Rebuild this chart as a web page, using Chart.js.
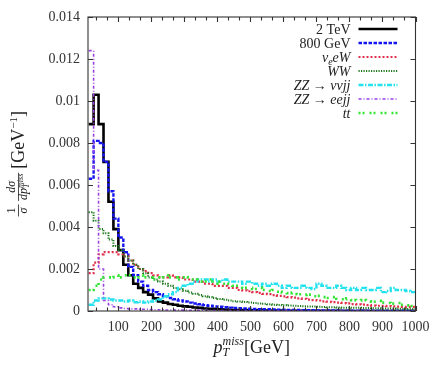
<!DOCTYPE html>
<html>
<head>
<meta charset="utf-8">
<script src="https://cdn.jsdelivr.net/npm/chart.js@4/dist/chart.umd.min.js"></script>
<style>
html,body{margin:0;padding:0;background:#fff;}
#c{display:block;}
</style>
</head>
<body>
<canvas id="c" width="440" height="367"></canvas>
<script>
// ---- data ----
const binEdges = [10,25,40,55,70,85,100,115,130,145,160,175,190,205,220,235,250,265,280,295,310,325,340,355,370,385,400,415,430,445,460,475,490,505,520,535,550,565,580,595,610,625,640,655,670,685,700,715,730,745,760,775,790,805,820,835,850,865,880,895,910,925,940,955,970,985,1000];

const tev2 = [
0.0089,0.0103,0.0089,0.0071,0.0052,0.0039,0.0029,0.0022,0.0017,0.0013,
0.0011,0.0009,0.00078,0.0006,0.00046,0.0004,0.00033,0.0003,0.00025,0.00022,
0.0002,0.00017,0.00015,0.00012,0.0001,0.0001,0.00008,0.00007,0.00006,0.00005,
0.00004,0.00004,0.00003,0.00003,0.00003,0.00002,0.00002,0.00002,0.00002,0.00001,
0.00001,0.00001,0.00001,0.00001,0.00001,0.00001,0.00001,0.00001,0.00001,0.00001,
0.00001,0,0.00001,0,0,0.00001,0,0,0,0,
0,0,0,0,0,0];

const gev800 = [
0.0063,0.0081,0.0080,0.0071,0.0057,0.0044,0.0035,0.0028,0.0021,0.0017,
0.0014,0.0012,0.0010,0.0009,0.0008,0.0007,0.00062,0.00056,0.0005,0.00045,
0.0004,0.00036,0.00032,0.00028,0.00025,0.00022,0.0002,0.00018,0.00016,0.00014,
0.00013,0.00012,0.00011,0.0001,0.00009,0.00008,0.00008,0.00007,0.00006,0.00006,
0.00005,0.00005,0.00005,0.00004,0.00004,0.00004,0.00003,0.00003,0.00003,0.00003,
0.00003,0.00002,0.00002,0.00002,0.00002,0.00002,0.00002,0.00002,0.00001,0.00002,
0.00001,0.00001,0.00001,0.00001,0.00001,0.00001];

const nueW = [
0.0018,0.0023,0.0027,0.0028,0.0028,0.0028,0.0027,0.0026,0.0024,0.0022,
0.0020,0.0019,0.0018,0.0017,0.0016,0.0016,0.0017,0.0016,0.0016,0.0015,
0.0015,0.0014,0.0014,0.0013,0.0013,0.0012,0.0012,0.0012,0.0011,0.0011,
0.0010,0.00098,0.00094,0.0009,0.00086,0.00082,0.0008,0.00076,0.00072,0.0007,
0.00066,0.00064,0.0006,0.00058,0.00054,0.00052,0.0005,0.00046,0.00044,0.00042,
0.0004,0.00038,0.00036,0.00033,0.00032,0.0003,0.00028,0.00026,0.00025,0.00024,
0.00023,0.00022,0.00021,0.0002,0.0002,0.0002];

const ww = [
0.0047,0.0043,0.0039,0.0037,0.0034,0.0031,0.0029,0.0026,0.0024,0.0022,
0.0020,0.0018,0.0016,0.0015,0.0014,0.0013,0.0012,0.0011,0.00104,0.00096,
0.00088,0.00082,0.00076,0.0007,0.00066,0.00062,0.00057,0.00053,0.0005,0.00047,
0.00045,0.00043,0.0004,0.00038,0.00036,0.00034,0.00032,0.0003,0.00029,0.00027,
0.00026,0.00025,0.00024,0.00023,0.00022,0.00021,0.0002,0.00019,0.00018,0.00018,
0.00017,0.00016,0.00016,0.00015,0.00015,0.00014,0.00014,0.00013,0.00013,0.00012,
0.00012,0.00012,0.00011,0.00011,0.0001,0.0001];

const zzNuNuJJ = [
0.0003,0.0005,0.0006,0.0006,0.00055,0.0005,0.0005,0.00045,0.0005,0.00042,
0.00045,0.0004,0.00045,0.0005,0.00055,0.0007,0.0008,0.0009,0.0011,0.0012,
0.0013,0.0014,0.0015,0.0015,0.0014,0.0015,0.0014,0.0015,0.0014,0.0014,
0.0014,0.0013,0.0014,0.0013,0.0012,0.0013,0.0012,0.0013,0.0012,0.0011,
0.0012,0.0011,0.0011,0.0012,0.0011,0.00105,0.0013,0.0012,0.0011,0.0011,
0.0012,0.0011,0.001,0.0011,0.001,0.0011,0.001,0.001,0.0011,0.0009,
0.00095,0.0011,0.001,0.001,0.00095,0.0009];

const zzEEJJ = [
0.0124,0.0067,0.0020,0.0005,0.0003,0.0002,0.00015,0.00012,0.0001,0.0001,
0.00008,0.00008,0.00007,0.00006,0.00006,0.00005,0.00005,0.00004,0.00004,0.00004,
0.00003,0.00003,0.00003,0.00003,0.00002,0.00002,0.00002,0.00002,0.00002,0.00002,
0.00001,0.00001,0.00001,0.00001,0.00001,0.00001,0.00001,0.00001,0.00001,0.00001,
0.00001,0.00001,0,0.00001,0,0,0,0,0,0,
0,0,0,0,0,0,0,0,0,0,
0,0,0,0,0,0];

const ttbar = [
0.0010,0.0012,0.0015,0.0016,0.0016,0.0017,0.0016,0.0017,0.0017,0.0016,
0.0017,0.0016,0.0016,0.0015,0.0016,0.0017,0.0016,0.0016,0.0015,0.0016,
0.0015,0.0015,0.0014,0.0014,0.0015,0.0013,0.0014,0.0013,0.0013,0.0012,
0.0012,0.0011,0.0011,0.00105,0.0011,0.001,0.00095,0.001,0.00092,0.00088,
0.00085,0.00088,0.0008,0.00076,0.00078,0.0007,0.00072,0.00066,0.00062,0.00066,
0.00058,0.00056,0.0006,0.00052,0.0005,0.00052,0.00046,0.00044,0.00048,0.0004,
0.00038,0.00035,0.00038,0.0003,0.00027,0.00024];

const xTickValues = [100,200,300,400,500,600,700,800,900,1000];
const yTickValues = [0,0.002,0.004,0.006,0.008,0.01,0.012,0.014];
const yTickLabels = ['0','0.002','0.004','0.006','0.008','0.01','0.012','0.014'];

// ---- styles ----
const SERIF = '"Liberation Serif","DejaVu Serif",serif';
const seriesDefs = [
  {vals: tev2,     color:'#000000', width:2.6, dash:[]},
  {vals: gev800,   color:'#1414f0', width:2.4, dash:[3.5,1.5]},
  {vals: nueW,     color:'#e0304c', width:2.2, dash:[2,2]},
  {vals: ww,       color:'#1f7a1f', width:2.0, dash:[1.2,1.3]},
  {vals: zzNuNuJJ, color:'#22e2ee', width:2.4, dash:[5,1.5,1.5,1.5]},
  {vals: zzEEJJ,   color:'#9a40e6', width:1.6, dash:[3,2,1,2]},
  {vals: ttbar,    color:'#33e533', width:2.6, dash:[2,2,2,5]}
];
const legendText = [
  [{t:'2 TeV'}],
  [{t:'800 GeV'}],
  [{t:'ν',it:1},{t:'e',it:1,sz:10,dy:3},{t:'eW',it:1}],
  [{t:'WW',it:1}],
  [{t:'ZZ',it:1},{t:' → '},{t:'ννjj',it:1}],
  [{t:'ZZ',it:1},{t:' → '},{t:'eejj',it:1}],
  [{t:'tt',it:1}]
];

function fnt(s, base){ return (s.it?'italic ':'') + (s.sz||base) + 'px ' + SERIF; }
function richLayout(ctx, segs, base){
  let cur=0, prevStart=0, prevEnd=0; const items=[];
  for (const s of segs){
    ctx.font = fnt(s, base);
    const w = ctx.measureText(s.t).width;
    const start = s.stack ? prevStart : cur;
    const end = start + w;
    items.push({s, start});
    cur = s.stack ? Math.max(prevEnd, end) : end;
    prevStart = start; prevEnd = end;
  }
  return {items, width:cur};
}
function richDraw(ctx, segs, x, y, align, base){
  const L = richLayout(ctx, segs, base);
  let x0 = x;
  if (align==='right') x0 = x - L.width; else if (align==='center') x0 = x - L.width/2;
  ctx.textAlign='left'; ctx.textBaseline='alphabetic';
  for (const it of L.items){ ctx.font = fnt(it.s, base); ctx.fillText(it.s.t, x0+it.start, y+(it.s.dy||0)); }
  return L.width;
}

const decor = {
  id:'decor',
  afterDraw(chart){
    const {ctx, chartArea:a, scales:{x, y}} = chart;
    ctx.save();
    // frame
    ctx.strokeStyle='#333'; ctx.lineWidth=1.1; ctx.setLineDash([]);
    ctx.strokeRect(a.left, a.top, a.right-a.left, a.bottom-a.top);
    // ticks
    ctx.beginPath();
    for (const v of yTickValues){
      const py = Math.round(y.getPixelForValue(v))+0.5;
      ctx.moveTo(a.left, py); ctx.lineTo(a.left+5, py);
      ctx.moveTo(a.right, py); ctx.lineTo(a.right-5, py);
    }
    for (let k=0; k*100/3 <= x.max+1e-6; k++){
      const v = k*100/3; if (v < x.min) continue;
      const px = Math.round(x.getPixelForValue(v))+0.5;
      const len = (k%3===0)?5:3.5;
      ctx.moveTo(px, a.bottom); ctx.lineTo(px, a.bottom-len);
      ctx.moveTo(px, a.top); ctx.lineTo(px, a.top+len);
    }
    ctx.stroke();

    // legend
    ctx.fillStyle='#222';
    legendText.forEach((segs,i)=>{
      const cy = Math.round(a.top + 11.5 + i*14.15);
      richDraw(ctx, segs, a.right-65, cy+4.5, 'right', 14);
      const d = seriesDefs[i];
      ctx.strokeStyle=d.color; ctx.lineWidth=d.width; ctx.setLineDash(d.dash);
      ctx.beginPath(); ctx.moveTo(a.right-57, cy); ctx.lineTo(a.right-18, cy); ctx.stroke();
    });
    ctx.setLineDash([]);

    // x title
    ctx.fillStyle='#222';
    richDraw(ctx, [{t:'p',it:1},{t:'T',it:1,sz:12,dy:3},{t:'miss',it:1,sz:12,dy:-8,stack:1},{t:'[GeV]'}],
      (a.left+a.right)/2, 353, 'center', 18);

    // y title (rotated)
    const numW = (()=>{ctx.font=fnt({it:1},12); return ctx.measureText('dσ').width;})();
    const denSegs=[{t:'dp',it:1},{t:'T',it:1,sz:8,dy:2},{t:'miss',it:1,sz:8,dy:-4,stack:1}];
    const denL = richLayout(ctx, denSegs, 12);
    const fw = Math.max(numW, denL.width)+2;
    const unitSegs=[{t:'[GeV'},{t:'−1',sz:11,dy:-7},{t:']'}];
    const unitL = richLayout(ctx, unitSegs, 18);
    const total = 13 + 3 + fw + 4 + unitL.width;
    const cyc = (a.top+a.bottom)/2;
    ctx.translate(0, cyc + total/2);
    ctx.rotate(-Math.PI/2);
    ctx.font = fnt({},12); ctx.textAlign='center'; ctx.textBaseline='alphabetic';
    ctx.fillText('1', 6.5, 15);
    ctx.font = fnt({it:1},12); ctx.fillText('σ', 6.5, 27);
    ctx.strokeStyle='#222'; ctx.lineWidth=0.8;
    ctx.beginPath(); ctx.moveTo(0.5,18.5); ctx.lineTo(12.5,18.5); ctx.stroke();
    const f2 = 16;
    ctx.font = fnt({it:1},12); ctx.textAlign='center';
    ctx.fillText('dσ', f2+fw/2, 15);
    richDraw(ctx, denSegs, f2+fw/2, 27, 'center', 12);
    ctx.beginPath(); ctx.moveTo(f2,18.5); ctx.lineTo(f2+fw,18.5); ctx.stroke();
    richDraw(ctx, unitSegs, f2+fw+4, 24, 'left', 18);
    ctx.restore();
  }
};

const datasets = seriesDefs.map((d,i)=>({
  data: binEdges.map((xv,k)=>({x:xv, y:d.vals[Math.min(k, d.vals.length-1)]})),
  borderColor:d.color, borderWidth:d.width, borderDash:d.dash, borderCapStyle:'butt',
  pointRadius:0, fill:false, stepped:true, tension:0,
  order: seriesDefs.length - i
}));

new Chart(document.getElementById('c'), {
  type:'line',
  data:{datasets},
  options:{
    responsive:false, animation:false, devicePixelRatio:1,
    layout:{padding:{left:0, top:17, right:24.5, bottom:0}},
    plugins:{legend:{display:false}, tooltip:{enabled:false}},
    scales:{
      x:{type:'linear', min:8, max:1000,
        afterBuildTicks(s){ s.ticks = xTickValues.map(v=>({value:v})); },
        afterFit(s){ s.height = 56; },
        grid:{display:false, drawTicks:false}, border:{display:false},
        ticks:{autoSkip:false, maxRotation:0, padding:8, color:'#333',
          font:{family:SERIF, size:14}, callback:(v)=>String(v)}
      },
      y:{type:'linear', min:0, max:0.014,
        afterBuildTicks(s){ s.ticks = yTickValues.map(v=>({value:v})); },
        afterFit(s){ s.width = 88; },
        grid:{display:false, drawTicks:false}, border:{display:false},
        ticks:{autoSkip:false, padding:8, color:'#333',
          font:{family:SERIF, size:14}, callback:(v,i)=>yTickLabels[i]}
      }
    }
  },
  plugins:[decor]
});
</script>
</body>
</html>
